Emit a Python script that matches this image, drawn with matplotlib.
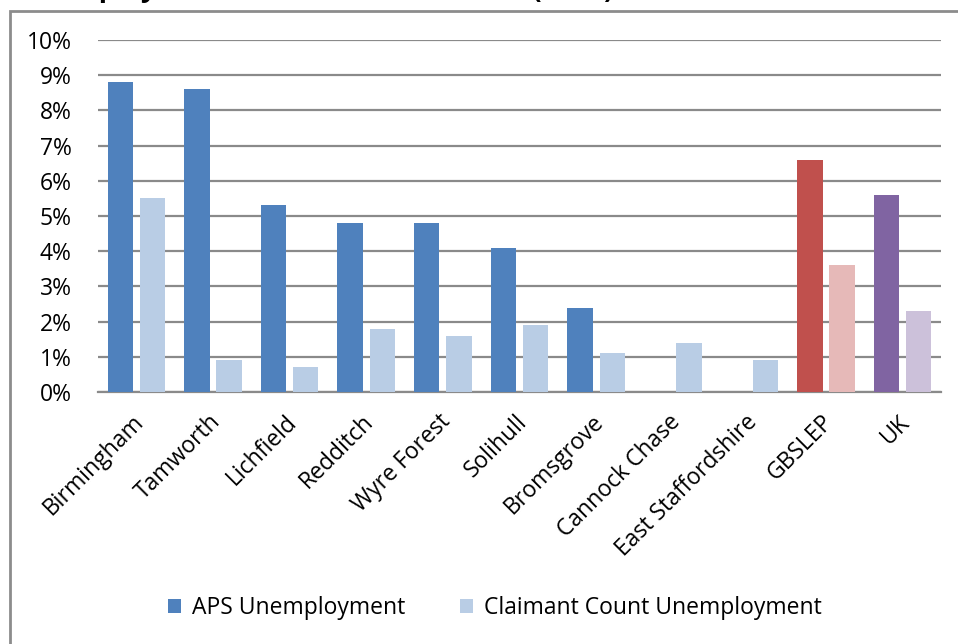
import matplotlib
matplotlib.use("Agg")
import matplotlib.pyplot as plt
from matplotlib.patches import Rectangle, Patch
import numpy as np

categories = ["Birmingham", "Tamworth", "Lichfield", "Redditch", "Wyre Forest",
              "Solihull", "Bromsgrove", "Cannock Chase", "East Staffordshire",
              "GBSLEP", "UK"]
aps = [8.8, 8.6, 5.3, 4.8, 4.8, 4.1, 2.4, np.nan, np.nan, 6.6, 5.6]
claimant = [5.5, 0.9, 0.7, 1.8, 1.6, 1.9, 1.1, 1.4, 0.9, 3.6, 2.3]
yticks = [0, 1, 2, 3, 4, 5, 6, 7, 8, 9, 10]
ytick_labels = [f"{v}%" for v in yticks]
title = "Unemployment Rates in the LEP Area (2013)"

aps_colors = ["#4F81BD"] * 9 + ["#C0504D", "#8064A2"]
cc_colors = ["#B9CDE5"] * 9 + ["#E6B9B8", "#CCC1DA"]

plt.rcParams['font.family'] = ['Open Sans', 'DejaVu Sans']

W, H = 958, 644
fig = plt.figure(figsize=(W / 100, H / 100), dpi=100)

# chart frame
fig.add_artist(Rectangle((10 / W, -0.1), 1.2, 1 - 11 / H + 0.1,
                         transform=fig.transFigure, fill=False,
                         edgecolor="#8C8C8C", linewidth=2))

# title, mostly clipped by the top edge (only descenders visible)
t = fig.text(17 / W, 1 + 3 / H, title, fontsize=22, fontweight="bold",
             ha="left", va="baseline", color="black")
r = fig.canvas.get_renderer()
wpx = t.get_window_extent(renderer=r).width
t.set_fontsize(22 * 595 / wpx)

ax = fig.add_axes([98 / W, 1 - 392 / H, (941 - 98) / W, (392 - 40) / H])
x = np.arange(len(categories))
bw = 0.33
ax.bar(x - 0.21, aps, bw, color=aps_colors, zorder=3)
ax.bar(x + 0.21, claimant, bw, color=cc_colors, zorder=3)

fs = 16.5
ax.set_xlim(-0.5, len(categories) - 0.5)
ax.set_ylim(0, 10)
ax.set_yticks(yticks)
ax.set_yticklabels(ytick_labels, fontsize=fs)
ax.yaxis.grid(True, color="#8A8A8A", linewidth=1.6, zorder=0)
ax.set_axisbelow(True)
for s in ["left", "right", "top"]:
    ax.spines[s].set_visible(False)
ax.spines["bottom"].set_color("#8A8A8A")
ax.spines["bottom"].set_linewidth(1.6)
ax.tick_params(axis="y", length=0, pad=19)
ax.tick_params(axis="x", length=0, pad=13)
ax.set_xticks(x - 0.06)
ax.set_xticklabels(categories, rotation=45, ha="right",
                   rotation_mode="anchor", fontsize=fs)

handles = [Patch(facecolor="#4F81BD", label="APS Unemployment"),
           Patch(facecolor="#B9CDE5", label="Claimant Count Unemployment")]
fig.legend(handles=handles, loc="center", bbox_to_anchor=(495 / W, 1 - 608 / H),
           ncol=2, frameon=False, fontsize=fs, handlelength=0.55,
           handleheight=0.55, handletextpad=0.5, columnspacing=2.4)

fig.savefig("out.png", dpi=100)
